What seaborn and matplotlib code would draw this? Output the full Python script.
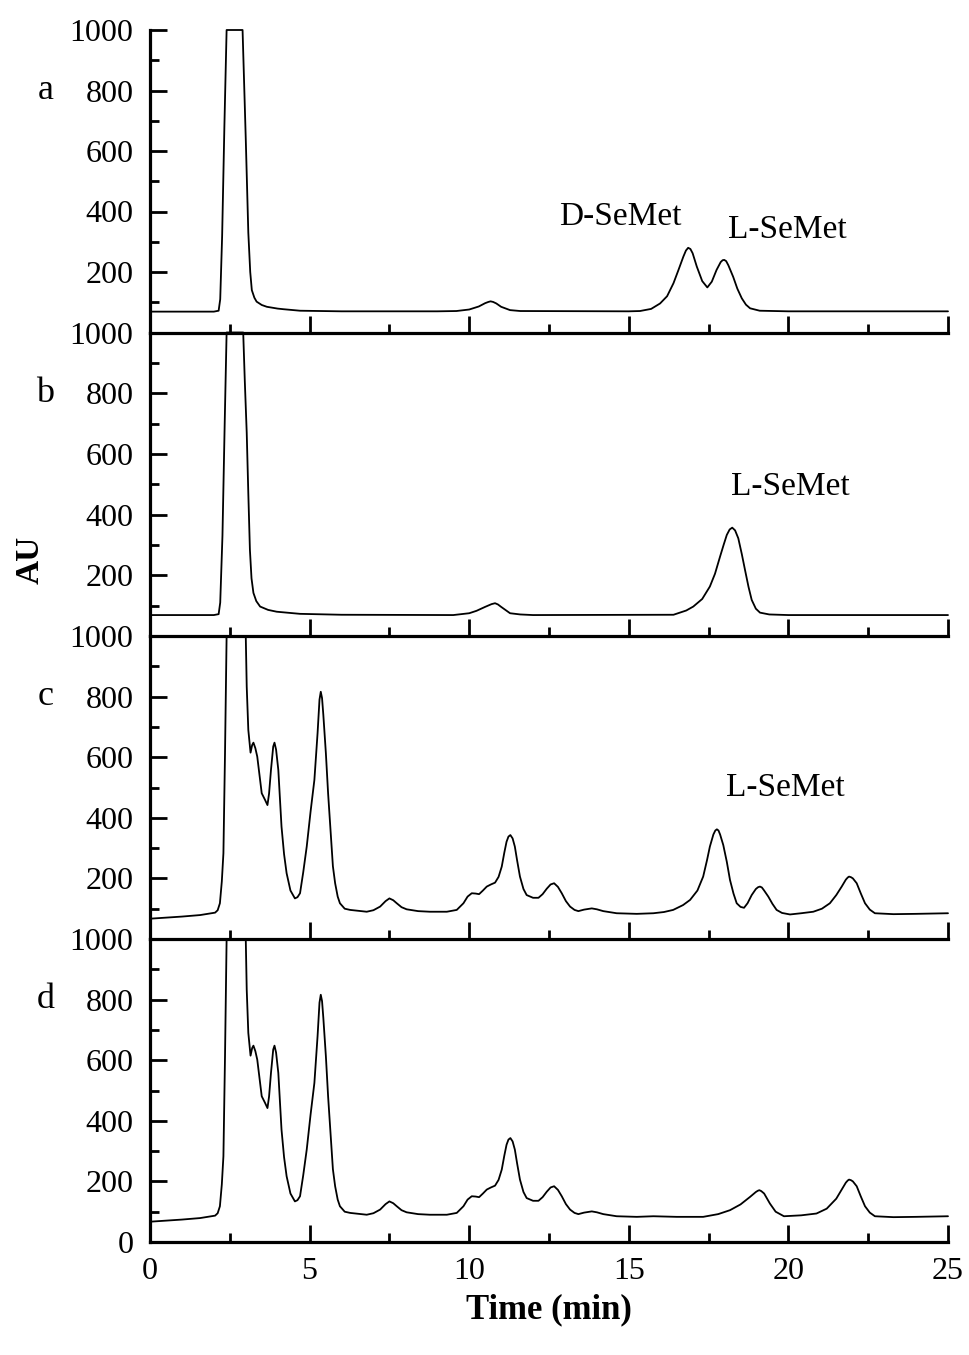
import matplotlib
matplotlib.use("Agg")
import matplotlib.pyplot as plt
import pandas as pd
import seaborn as sns
from matplotlib.ticker import MultipleLocator

# ---- chromatogram traces (time in min, detector response in AU) ----
# a: D/L-SeMet standard mixture
t_a = [0, 1.0, 2.0, 2.15, 2.2, 2.26, 2.33, 2.40, 2.90, 2.95, 3.0, 3.08, 3.14, 3.19,
       3.27, 3.34, 3.5, 3.66, 4.0, 4.18, 4.7, 6.0, 9.0, 9.6, 10.0, 10.3, 10.5, 10.6,
       10.67, 10.75, 10.85, 11.0, 11.28, 11.6, 15.0, 15.35, 15.7, 15.98, 16.2, 16.4,
       16.55, 16.71, 16.79, 16.86, 16.93, 17.0, 17.13, 17.3, 17.46, 17.6, 17.75, 17.88,
       17.94, 17.99, 18.05, 18.12, 18.27, 18.4, 18.54, 18.67, 18.8, 19.1, 20.0, 25.0]
au_a = [69, 69, 69, 72, 110, 320, 680, 1000, 1000, 820, 640, 330, 200, 140,
        115, 102, 91, 85, 79, 77, 72, 70, 70, 71, 76, 86, 97, 101,
        103, 101, 96, 85, 74, 71, 70, 71, 78, 96, 120, 163,
        205, 251, 271, 280, 276, 262, 218, 170, 149, 168, 207, 233,
        239, 240, 236, 222, 184, 145, 113, 92, 80, 72, 70, 70]

# b: L-SeMet standard
t_b = [0, 1.0, 2.0, 2.15, 2.2, 2.27, 2.34, 2.40, 2.92, 2.97, 3.03, 3.08, 3.13, 3.18,
       3.24, 3.33, 3.45, 3.7, 3.97, 4.7, 6.0, 9.5, 10.0, 10.23, 10.5, 10.7, 10.81,
       10.9, 11.0, 11.28, 11.6, 12.0, 16.4, 16.8, 17.02, 17.3, 17.54, 17.7, 17.86,
       17.97, 18.07, 18.16, 18.24, 18.33, 18.43, 18.54, 18.64, 18.75, 18.85, 18.98,
       19.11, 19.4, 20.0, 25.0]
au_b = [69, 69, 69, 72, 110, 330, 700, 1000, 1000, 840, 670, 470, 284, 190,
        142, 115, 97, 86, 80, 73, 70, 69, 75, 83, 96, 105, 108,
        104, 96, 75, 71, 69, 70, 84, 97, 122, 163, 205, 262,
        300, 333, 351, 357, 348, 322, 270, 218, 162, 119, 90,
        77, 71, 69, 69]

# c / d: sample matrix peaks shared by both runs (0 - 15.8 min)
t_matrix = [0, 1.0, 1.57, 2.04, 2.12, 2.19, 2.25, 2.30, 2.35, 2.40, 3.0, 3.03, 3.08,
            3.15, 3.2, 3.24, 3.3, 3.36, 3.43, 3.5, 3.6, 3.68, 3.73, 3.79, 3.86, 3.9,
            3.95, 4.02, 4.12, 4.2, 4.28, 4.4, 4.54, 4.62, 4.70, 4.8, 4.91, 5.03, 5.15,
            5.25, 5.31, 5.35, 5.39, 5.43, 5.51, 5.58, 5.66, 5.73, 5.80, 5.88, 5.95, 6.1,
            6.27, 6.79, 7.0, 7.21, 7.38, 7.5, 7.62, 7.73, 7.88, 8.04, 8.4, 8.77, 9.3,
            9.61, 9.82, 9.95, 10.08, 10.2, 10.31, 10.43, 10.55, 10.68, 10.81, 10.92,
            11.02, 11.1, 11.17, 11.23, 11.29, 11.36, 11.43, 11.5, 11.59, 11.7, 11.8,
            12.0, 12.17, 12.3, 12.43, 12.55, 12.66, 12.78, 12.9, 13.03, 13.16, 13.3,
            13.42, 13.6, 13.84, 14.0, 14.2, 14.62, 15.25, 15.77]
au_matrix = [67, 74, 79, 87, 95, 118, 190, 283, 613, 1000, 1000, 833, 690,
             615, 640, 648, 630, 602, 540, 481, 460, 442, 480, 558, 635, 648,
             625, 558, 371, 280, 217, 160, 134, 138, 151, 220, 305, 420, 525,
             680, 790, 816, 795, 740, 613, 480, 349, 240, 184, 140, 118, 100,
             96, 90, 95, 107, 125, 134, 128, 118, 105, 98, 92, 90, 90,
             96, 118, 140, 151, 150, 148, 160, 173, 180, 186, 205,
             239, 285, 321, 338, 343, 332, 305, 260, 206, 165, 145,
             136, 136, 148, 166, 180, 184, 172, 151, 125, 107, 96,
             92, 97, 101, 98, 92, 85, 83, 85]

# c: spiked sample, L-SeMet present
t_c_tail = [16.1, 16.39, 16.7, 16.92, 17.15, 17.33, 17.45, 17.54, 17.65, 17.71, 17.76,
            17.81, 17.86, 17.96, 18.07, 18.17, 18.28, 18.38, 18.5, 18.61, 18.72, 18.85,
            18.98, 19.05, 19.11, 19.17, 19.24, 19.37, 19.5, 19.63, 19.8, 20.05, 20.4,
            20.78, 21.05, 21.3, 21.5, 21.67, 21.8, 21.86, 21.9, 21.96, 22.02, 22.14,
            22.27, 22.4, 22.55, 22.71, 23.29, 24.0, 25.0]
au_c_tail = [89, 96, 112, 129, 160, 206, 260, 305, 345, 358, 362,
             358, 345, 310, 255, 195, 150, 118, 106, 103, 118, 145,
             165, 171, 173, 170, 160, 140, 116, 96, 86, 81, 85,
             90, 100, 118, 145, 173, 196, 203, 206, 204, 200, 184,
             150, 118, 97, 85, 82, 83, 85]

# d: sample without L-SeMet
t_d_tail = [16.5, 17.33, 17.8, 18.17, 18.5, 18.8, 18.98, 19.04, 19.09, 19.15, 19.24,
            19.42, 19.6, 19.86, 20.4, 20.88, 21.2, 21.5, 21.67, 21.8, 21.86, 21.9,
            21.96, 22.02, 22.14, 22.27, 22.4, 22.55, 22.71, 23.29, 24.0, 25.0]
au_d_tail = [83, 83, 92, 105, 124, 149, 165, 169, 171, 168, 160,
             127, 100, 85, 88, 94, 110, 143, 173, 196, 203, 206,
             204, 200, 184, 150, 118, 97, 85, 82, 83, 85]

panel_letters = ["a", "b", "c", "d"]
peak_labels = [
    [("D-SeMet", 14.72, 382), ("L-SeMet", 19.96, 340)],
    [("L-SeMet", 20.05, 492)],
    [("L-SeMet", 19.92, 498)],
    [],
]
x_label = "Time (min)"
y_label = "AU"

traces = [
    (t_a, au_a),
    (t_b, au_b),
    (t_matrix + t_c_tail, au_matrix + au_c_tail),
    (t_matrix + t_d_tail, au_matrix + au_d_tail),
]

# ---- styling ----
sns.set_theme(style="ticks")
plt.rcParams["font.family"] = ["Liberation Serif", "DejaVu Serif"]
plt.rcParams["text.color"] = "black"
plt.rcParams["axes.labelcolor"] = "black"
plt.rcParams["xtick.color"] = "black"
plt.rcParams["ytick.color"] = "black"

W, H = 970, 1355
fig = plt.figure(figsize=(W / 100, H / 100), dpi=100)
left_px, right_px = 150, 948
edges_px = [30, 332.5, 636, 939, 1242]

for i, (t, au) in enumerate(traces):
    top, bot = edges_px[i], edges_px[i + 1]
    ax = fig.add_axes([left_px / W, 1 - bot / H, (right_px - left_px) / W, (bot - top) / H])
    ax.set_facecolor("none")
    df = pd.DataFrame({"time": t, "au": au})
    sns.lineplot(data=df, x="time", y="au", ax=ax, color="black", linewidth=1.3,
                 sort=False, estimator=None, clip_on=False)
    ax.set_xlim(0, 25)
    ax.set_ylim(0, 1000)
    ax.set_xlabel("")
    ax.set_ylabel("")

    for side in ("top", "right"):
        ax.spines[side].set_visible(False)
    for side in ("left", "bottom"):
        ax.spines[side].set_linewidth(2.3)
        ax.spines[side].set_color("black")

    ax.xaxis.set_major_locator(MultipleLocator(5))
    ax.xaxis.set_minor_locator(MultipleLocator(2.5))
    ax.set_yticks(range(0, 1001, 200))
    ax.yaxis.set_minor_locator(MultipleLocator(100))
    ylabels = [str(v) for v in range(0, 1001, 200)]
    if i < 3:
        ylabels[0] = ""
    ax.set_yticklabels(ylabels)

    ax.tick_params(axis="both", which="major", direction="in", length=12, width=2,
                   color="black", labelsize=23, labelcolor="black")
    ax.tick_params(axis="both", which="minor", direction="in", length=6.5, width=2,
                   color="black")
    ax.tick_params(axis="y", which="major", pad=12)
    ax.tick_params(axis="x", which="major", pad=11, labelbottom=(i == 3))

    ax.text(-0.131, 0.8, panel_letters[i], transform=ax.transAxes, fontsize=26,
            ha="center", va="center", color="black")
    for txt, x, y in peak_labels[i]:
        ax.text(x, y, txt, fontsize=24, ha="center", va="center", color="black")

fig.text(30 / W, 1 - 560 / H, y_label, rotation=90, fontsize=24, fontweight="bold",
         ha="center", va="center", color="black")
fig.text(549 / W, 1 - 1310 / H, x_label, fontsize=25, fontweight="bold",
         ha="center", va="center", color="black")

fig.savefig("out.png", dpi=100, facecolor="white")
